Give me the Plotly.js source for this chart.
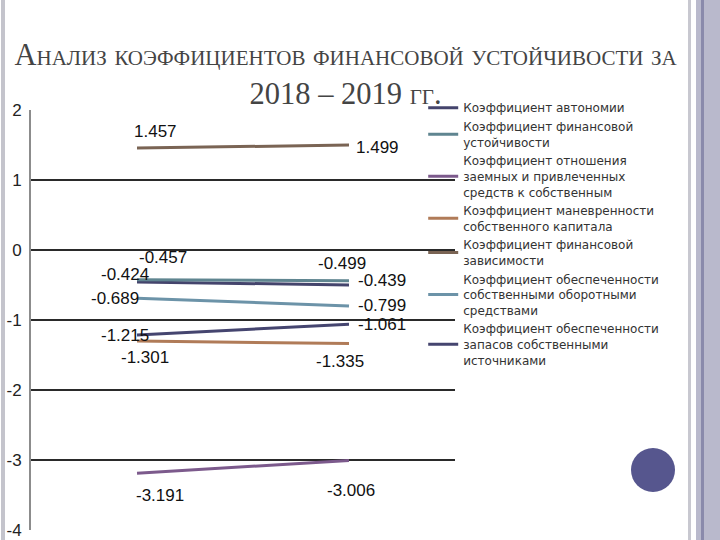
<!DOCTYPE html>
<html>
<head>
<meta charset="utf-8">
<script src="https://cdn.plot.ly/plotly-3.0.1.min.js"></script>
<style>
  html, body { margin: 0; padding: 0; background: #ffffff; }
  #wrap { position: relative; width: 720px; height: 540px; overflow: hidden; }
  .deco { position: absolute; }
  #chart { position: absolute; left: 0; top: 0; width: 720px; height: 540px; }
</style>
</head>
<body>
<div id="wrap">
  <div class="deco" style="left:1px;top:0;width:4px;height:540px;background:#c4c4cc;"></div>
  <div class="deco" style="left:688px;top:0;width:3px;height:540px;background:#c8c8d0;"></div>
  <div class="deco" style="left:696px;top:0;width:24px;height:540px;background:#b9b9cc;"></div>
  <div class="deco" style="left:701px;top:0;width:3px;height:540px;background:#8a8aab;"></div>
  <div class="deco" style="left:631px;top:448px;width:44px;height:44px;border-radius:50%;background:#56568e;"></div>
  <div id="chart"></div>
</div>
<script>
// Categories (years)
const years = ["2018", "2019"];

// Series names
const names = [
  "Коэффициент автономии",
  "Коэффициент финансовой<br>устойчивости",
  "Коэффициент отношения<br>заемных и привлеченных<br>средств к собственным",
  "Коэффициент маневренности<br>собственного капитала",
  "Коэффициент финансовой<br>зависимости",
  "Коэффициент обеспеченности<br>собственными оборотными<br>средствами",
  "Коэффициент обеспеченности<br>запасов собственными<br>источниками"
];

// Series values (from data labels)
const autonomy      = [-0.457, -0.499];
const finStability  = [-0.424, -0.439];
const debtToEquity  = [-3.191, -3.006];
const maneuver      = [-1.301, -1.335];
const finDependence = [1.457, 1.499];
const ownWorking    = [-0.689, -0.799];
const inventoryCov  = [-1.215, -1.061];

// Y tick labels
const yTicks = [-4, -3, -2, -1, 0, 1, 2];
const yTickText = ["-4", "-3", "-2", "-1", "0", "1", "2"];

const seriesValues = [autonomy, finStability, debtToEquity, maneuver, finDependence, ownWorking, inventoryCov];
const colors = ["#44446c", "#5f8590", "#7c5a8c", "#b07b58", "#7a6454", "#6c93a8", "#45456f"];

// label offsets (pixels) relative to each point: [xshift, yshift] for 2018 and 2019
const labelShift = [
  [[26, 24], [-7, 21]],
  [[-12, 5], [33, 0]],
  [[23, -22], [2, -30]],
  [[8, -16], [-9, -18]],
  [[18, 17], [28, -2]],
  [[-22, 0], [33, 0]],
  [[-12, 0], [33, 0]]
];

const traces = seriesValues.map((vals, i) => ({
  type: "scatter",
  mode: "lines",
  x: years,
  y: vals,
  name: names[i],
  line: { color: colors[i], width: 3 },
  hoverinfo: "x+y+name"
}));

// annotations on a category axis take the category's serial index
const annotations = [];
seriesValues.forEach((vals, i) => {
  vals.forEach((v, j) => {
    annotations.push({
      x: years.indexOf(years[j]),
      y: v,
      xref: "x",
      yref: "y",
      text: v.toFixed(3),
      showarrow: false,
      xanchor: "center",
      yanchor: "middle",
      xshift: labelShift[i][j][0],
      yshift: labelShift[i][j][1],
      font: { family: "Liberation Sans, Arial, sans-serif", size: 17, color: "#111111" }
    });
  });
});

const layout = {
  width: 720,
  height: 540,
  paper_bgcolor: "rgba(0,0,0,0)",
  plot_bgcolor: "rgba(0,0,0,0)",
  margin: { l: 31, r: 265, t: 110, b: 10 },
  title: {
    text: "Анализ коэффициентов финансовой устойчивости за<br>2018 – 2019 гг.",
    font: { family: "Liberation Serif, Times New Roman, serif", size: 30.5, color: "#444444", variant: "small-caps" },
    x: 0.48,
    xanchor: "center",
    y: 0.88,
    yanchor: "top",
    yref: "container"
  },
  xaxis: {
    type: "category",
    range: [-0.5, 1.5],
    showticklabels: false,
    showgrid: false,
    zeroline: false,
    showline: false,
    ticks: ""
  },
  yaxis: {
    range: [-4, 2],
    tickvals: yTicks,
    ticktext: yTickText,
    showgrid: true,
    gridcolor: "#2a2a2a",
    gridwidth: 1.5,
    zeroline: false,
    showline: true,
    linecolor: "#8c8c8c",
    linewidth: 2,
    ticks: "",
    tickfont: { family: "Liberation Sans, Arial, sans-serif", size: 17, color: "#222222" },
    ticklabelstandoff: 4
  },
  annotations: annotations,
  showlegend: true,
  legend: {
    x: 0.925,
    xanchor: "left",
    y: 1.04,
    yanchor: "top",
    maxheight: 500,
    bgcolor: "rgba(0,0,0,0)",
    font: { family: "'DejaVu Sans', 'Noto Sans', sans-serif", size: 12, color: "#333333" },
    tracegroupgap: 0,
    itemwidth: 30,
    valign: "middle"
  }
};

Plotly.newPlot("chart", traces, layout, { displayModeBar: false, staticPlot: true });
</script>
</body>
</html>
